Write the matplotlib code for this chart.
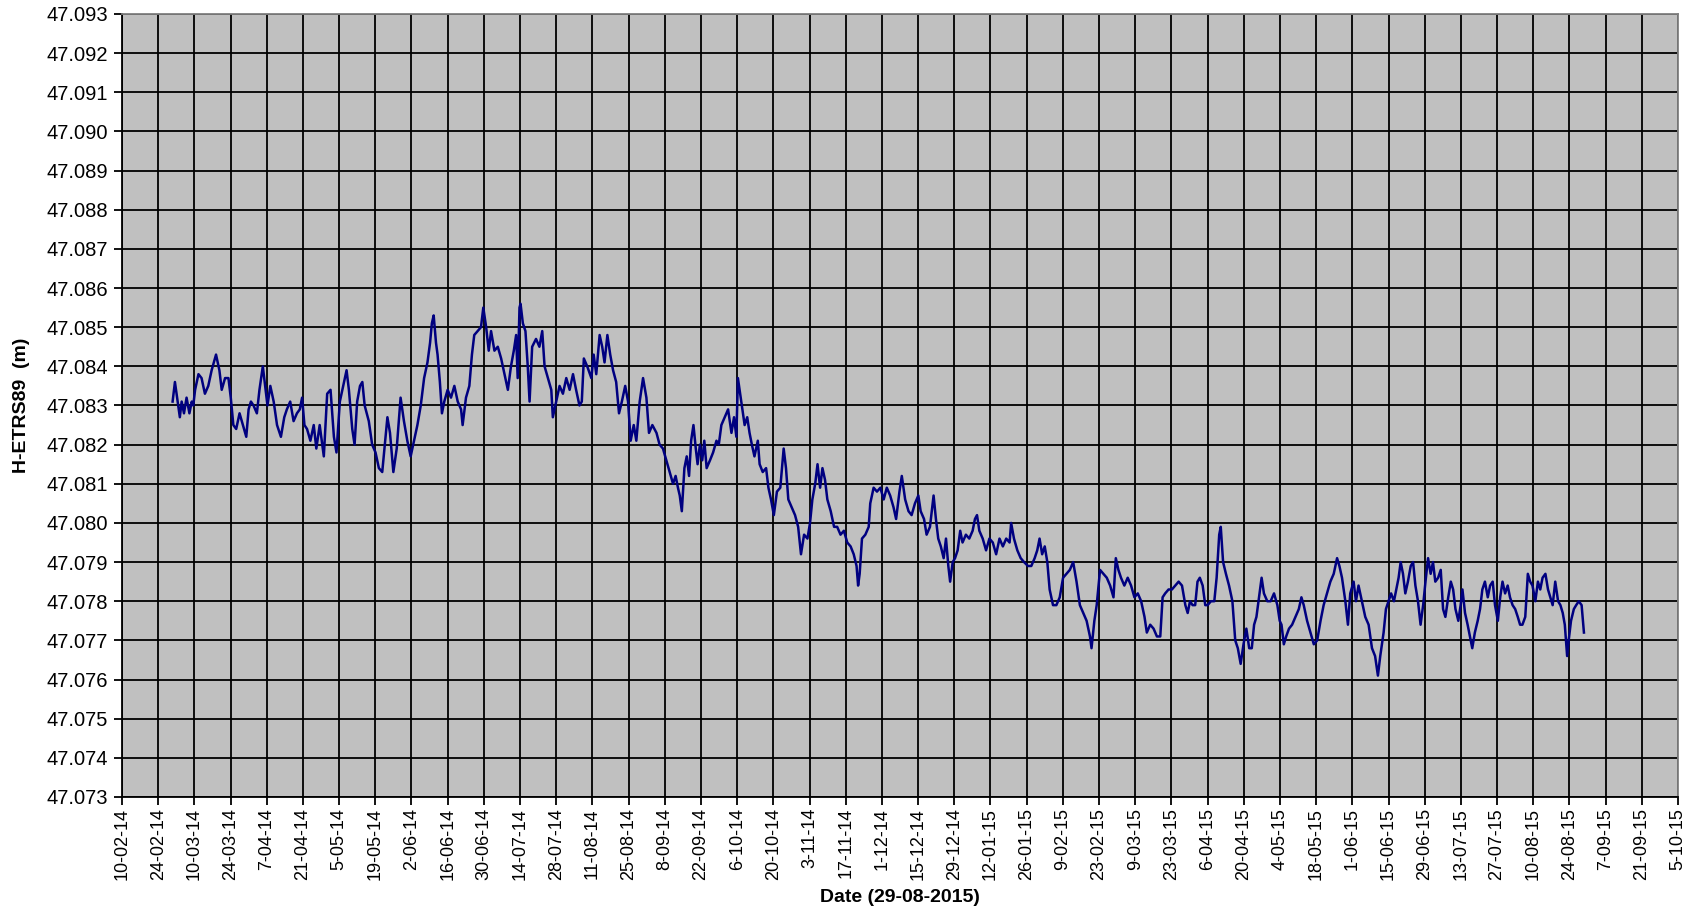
import matplotlib
matplotlib.use("Agg")
import matplotlib.pyplot as plt
import numpy as np
import pandas as pd

# start of the time axis, day offsets below are counted from here
t0 = pd.Timestamp("2014-02-10")

# days since 10-02-2014 and height (m)
days = [
    # march - june 2014
    19.6, 20.5, 22.4, 23.1, 24.0, 25.0, 26.1, 27.0, 27.6, 28.3,
    29.6, 30.8, 32.1, 33.4, 34.7, 36.4, 37.7, 38.6, 39.9, 41.2,
    42.1, 43.1, 44.2, 45.5, 46.8, 48.1, 49.0, 49.9, 50.9, 52.2,
    53.2, 54.5, 55.4, 56.3, 57.4, 58.7, 60.0, 61.5, 62.8, 63.8,
    65.1, 66.4, 67.7, 68.8, 69.7, 70.6, 71.6, 72.9, 74.2, 75.2,
    76.5, 78.1, 79.4, 80.7, 82.0, 83.0, 84.3, 85.6, 86.9, 87.8,
    89.1, 90.0, 91.0, 92.1, 93.0, 93.9, 95.5, 96.8, 98.1, 99.4,
    100.7, 102.7, 103.7, 105.0, 106.3, 107.8, 109.1, 110.4, 111.7, 113.0,
    114.3, 115.6, 116.9, 118.2, 119.2,
    # june - september 2014
    119.9, 120.6, 121.5, 122.1, 123.0, 123.8, 124.7, 126.0, 127.3, 128.6,
    129.9, 131.2, 131.8, 133.1, 134.4, 135.4, 136.3, 137.6, 138.9, 139.8,
    140.9, 141.9, 142.8, 144.1, 145.4, 146.7, 148.0, 149.3, 150.5, 151.6,
    152.5, 153.1, 153.8, 154.2, 155.1, 156.1, 157.0, 157.7, 158.7, 160.2,
    161.5, 162.6, 163.5, 164.8, 166.1, 166.7, 168.0, 169.3, 170.6, 171.9,
    173.2, 174.5, 175.7, 177.0, 177.9, 178.7, 180.0, 181.6, 182.5, 183.5,
    184.8, 185.8, 186.7, 187.8, 188.9, 190.0, 191.2, 192.3, 193.4, 194.7,
    195.8, 196.8, 198.0, 199.0, 200.3, 201.6, 202.9, 203.9, 205.2, 206.8,
    208.0, 209.3, 210.6, 211.9, 213.2, 214.2, 215.1, 215.8,
    # september - december 2014
    216.6, 217.6, 218.5, 219.4, 220.2, 221.1, 222.0, 222.7, 223.6, 224.5,
    225.3, 226.2, 227.5, 228.7, 230.0, 230.9, 231.9, 233.2, 234.5, 235.8,
    236.8, 237.7, 238.3, 239.4, 240.3, 240.9, 241.9, 242.8, 243.7, 244.7,
    246.0, 246.7, 247.9, 249.2, 250.1, 251.1, 252.2, 253.4, 254.7, 256.0,
    256.9, 257.8, 259.1, 260.4, 261.6, 262.7, 263.9, 265.2, 266.2, 267.1,
    268.2, 269.1, 270.1, 271.0, 272.0, 272.9, 274.2, 275.5, 276.7, 278.0,
    279.3, 280.6, 281.9, 283.1, 284.2, 284.8, 285.4, 286.3, 287.6, 288.9,
    289.5, 290.8, 292.1, 293.4, 294.7, 295.9, 297.2, 298.5, 299.5, 300.8,
    301.7, 303.0, 304.3, 305.5, 306.8, 308.1, 309.0, 310.3, 311.3, 312.6,
    # december 2014 - march 2015
    314.0, 314.9, 315.8, 316.8, 317.9, 318.8, 319.7, 320.4, 321.4, 322.3,
    323.3, 324.3, 325.2, 326.5, 327.8, 329.1, 330.0, 330.8, 331.7, 333.0,
    334.3, 335.6, 336.9, 338.2, 339.5, 340.8, 342.1, 343.4, 344.0, 345.1,
    346.4, 347.7, 349.0, 350.5, 351.8, 353.1, 354.1, 355.0, 356.0, 357.0,
    358.0, 358.9, 360.2, 361.5, 362.8, 364.1, 365.4, 366.7, 368.0, 369.3,
    370.6, 371.9, 373.2, 374.5, 375.1, 376.2, 377.1, 378.4, 379.7, 381.0,
    382.3, 383.6, 384.5, 385.5, 386.5, 387.8, 389.1, 390.4, 391.7, 393.0,
    394.3, 395.6, 396.5, 397.8, 399.1, 400.4, 401.7, 402.6, 403.6, 404.9,
    406.2, 407.5, 408.8, 410.1,
    # march - june 2015
    411.4, 412.3, 413.2, 414.2, 415.2, 416.1, 417.0, 418.1, 419.1, 420.0,
    421.3, 422.6, 423.5, 424.5, 425.1, 426.0, 427.1, 428.3, 429.6, 430.7,
    431.7, 432.8, 433.9, 435.0, 436.1, 437.1, 438.0, 438.9, 439.9, 440.9,
    441.8, 443.1, 444.4, 445.7, 447.0, 447.9, 448.6, 449.5, 450.4, 451.5,
    452.7, 454.0, 455.3, 456.3, 457.2, 458.5, 459.8, 461.1, 462.4, 463.7,
    464.9, 466.2, 467.5, 468.8, 470.1, 471.0, 472.0, 473.3, 474.3, 475.2,
    476.5, 477.4, 478.4, 479.7, 481.0, 482.3, 483.6, 484.8, 485.9, 486.8,
    488.1, 489.0, 490.0,
    # june - august 2015
    491.0, 492.1, 493.0, 493.9, 494.7, 495.6, 496.5, 497.5, 498.6, 499.5,
    500.4, 501.4, 502.4, 503.4, 504.3, 505.3, 506.3, 507.2, 508.1, 509.2,
    510.2, 511.1, 512.0, 513.1, 514.1, 515.0, 515.9, 517.0, 517.9, 518.6,
    519.6, 520.6, 521.5, 522.4, 523.4, 524.5, 525.4, 526.3, 527.3, 528.4,
    529.3, 530.3, 531.2, 532.3, 533.2, 534.1, 535.1, 536.1, 537.0, 538.0,
    539.0, 540.0, 540.9, 541.8, 542.9, 543.9, 544.8, 545.7, 546.8, 547.8,
    548.7, 549.6, 550.7, 551.7, 552.6, 553.5, 554.5, 555.6, 556.5, 557.4,
    558.2, 559.1, 559.7, 560.6, 561.7, 562.6, 563.6, 564.7, 565.6,
]

height = [
    # march - june 2014
    47.0831, 47.0836, 47.0827, 47.0831, 47.0828, 47.0832, 47.0828, 47.0831, 47.0830, 47.0834,
    47.0838, 47.0837, 47.0833, 47.0835, 47.0839, 47.0843, 47.0839, 47.0834, 47.0837, 47.0837,
    47.0832, 47.0825, 47.0824, 47.0828, 47.0825, 47.0822, 47.0829, 47.0831, 47.0830, 47.0828,
    47.0834, 47.0840, 47.0835, 47.0830, 47.0835, 47.0831, 47.0825, 47.0822, 47.0827, 47.0829,
    47.0831, 47.0826, 47.0828, 47.0829, 47.0832, 47.0825, 47.0824, 47.0821, 47.0825, 47.0819,
    47.0825, 47.0817, 47.0833, 47.0834, 47.0822, 47.0818, 47.0831, 47.0835, 47.0839, 47.0834,
    47.0824, 47.0820, 47.0831, 47.0835, 47.0836, 47.0830, 47.0826, 47.0820, 47.0818, 47.0814,
    47.0813, 47.0827, 47.0823, 47.0813, 47.0819, 47.0832, 47.0826, 47.0821, 47.0817, 47.0821,
    47.0825, 47.0830, 47.0837, 47.0841, 47.0846,
    # june - september 2014
    47.0851, 47.0853, 47.0846, 47.0843, 47.0836, 47.0828, 47.0831, 47.0834, 47.0832, 47.0835,
    47.0831, 47.0829, 47.0825, 47.0832, 47.0835, 47.0843, 47.0848, 47.0849, 47.0850, 47.0855,
    47.0850, 47.0844, 47.0849, 47.0844, 47.0845, 47.0842, 47.0838, 47.0834, 47.0840, 47.0844,
    47.0848, 47.0837, 47.0855, 47.0856, 47.0851, 47.0849, 47.0840, 47.0831, 47.0845, 47.0847,
    47.0845, 47.0849, 47.0840, 47.0837, 47.0834, 47.0827, 47.0831, 47.0835, 47.0833, 47.0837,
    47.0834, 47.0838, 47.0834, 47.0830, 47.0831, 47.0842, 47.0840, 47.0837, 47.0843, 47.0838,
    47.0848, 47.0845, 47.0841, 47.0848, 47.0843, 47.0839, 47.0836, 47.0828, 47.0831, 47.0835,
    47.0831, 47.0821, 47.0825, 47.0821, 47.0831, 47.0837, 47.0832, 47.0823, 47.0825, 47.0823,
    47.0820, 47.0819, 47.0816, 47.0813, 47.0810, 47.0812, 47.0809, 47.0807,
    # september - december 2014
    47.0803, 47.0814, 47.0817, 47.0812, 47.0821, 47.0825, 47.0819, 47.0815, 47.0820, 47.0816,
    47.0821, 47.0814, 47.0816, 47.0818, 47.0821, 47.0820, 47.0825, 47.0827, 47.0829, 47.0823,
    47.0827, 47.0822, 47.0837, 47.0832, 47.0828, 47.0825, 47.0827, 47.0823, 47.0820, 47.0817,
    47.0821, 47.0815, 47.0813, 47.0814, 47.0809, 47.0806, 47.0802, 47.0808, 47.0809, 47.0819,
    47.0814, 47.0806, 47.0804, 47.0802, 47.0799, 47.0792, 47.0797, 47.0796, 47.0800, 47.0806,
    47.0810, 47.0815, 47.0809, 47.0814, 47.0811, 47.0806, 47.0803, 47.0799, 47.0799, 47.0797,
    47.0798, 47.0795, 47.0794, 47.0792, 47.0789, 47.0784, 47.0787, 47.0796, 47.0797, 47.0799,
    47.0805, 47.0809, 47.0808, 47.0809, 47.0806, 47.0809, 47.0807, 47.0804, 47.0801, 47.0808,
    47.0812, 47.0806, 47.0803, 47.0802, 47.0805, 47.0807, 47.0803, 47.0801, 47.0797, 47.0799,
    # december 2014 - march 2015
    47.0807, 47.0801, 47.0796, 47.0794, 47.0791, 47.0796, 47.0789, 47.0785, 47.0790, 47.0791,
    47.0793, 47.0798, 47.0795, 47.0797, 47.0796, 47.0798, 47.0801, 47.0802, 47.0798, 47.0796,
    47.0793, 47.0796, 47.0795, 47.0792, 47.0796, 47.0794, 47.0796, 47.0795, 47.0800, 47.0796,
    47.0793, 47.0791, 47.0790, 47.0789, 47.0789, 47.0791, 47.0793, 47.0796, 47.0792, 47.0794,
    47.0790, 47.0783, 47.0779, 47.0779, 47.0781, 47.0786, 47.0787, 47.0788, 47.0790, 47.0785,
    47.0779, 47.0777, 47.0775, 47.0771, 47.0768, 47.0775, 47.0779, 47.0788, 47.0787, 47.0786,
    47.0784, 47.0781, 47.0791, 47.0788, 47.0786, 47.0784, 47.0786, 47.0784, 47.0781, 47.0782,
    47.0780, 47.0776, 47.0772, 47.0774, 47.0773, 47.0771, 47.0771, 47.0781, 47.0782, 47.0783,
    47.0783, 47.0784, 47.0785, 47.0784,
    # march - june 2015
    47.0779, 47.0777, 47.0780, 47.0779, 47.0779, 47.0785, 47.0786, 47.0784, 47.0779, 47.0779,
    47.0780, 47.0780, 47.0786, 47.0797, 47.0799, 47.0790, 47.0787, 47.0784, 47.0780, 47.0770,
    47.0768, 47.0764, 47.0769, 47.0773, 47.0768, 47.0768, 47.0774, 47.0776, 47.0781, 47.0786,
    47.0782, 47.0780, 47.0780, 47.0782, 47.0779, 47.0775, 47.0774, 47.0769, 47.0771, 47.0773,
    47.0774, 47.0776, 47.0778, 47.0781, 47.0779, 47.0775, 47.0772, 47.0769, 47.0770, 47.0775,
    47.0779, 47.0782, 47.0785, 47.0787, 47.0791, 47.0789, 47.0786, 47.0780, 47.0774, 47.0782,
    47.0785, 47.0780, 47.0784, 47.0780, 47.0776, 47.0774, 47.0768, 47.0766, 47.0761, 47.0766,
    47.0772, 47.0778, 47.0780,
    # june - august 2015
    47.0782, 47.0780, 47.0783, 47.0786, 47.0790, 47.0787, 47.0782, 47.0785, 47.0789, 47.0790,
    47.0784, 47.0780, 47.0774, 47.0779, 47.0785, 47.0791, 47.0787, 47.0790, 47.0785, 47.0786,
    47.0788, 47.0778, 47.0776, 47.0781, 47.0785, 47.0783, 47.0778, 47.0775, 47.0779, 47.0783,
    47.0777, 47.0774, 47.0771, 47.0768, 47.0772, 47.0775, 47.0778, 47.0783, 47.0785, 47.0781,
    47.0784, 47.0785, 47.0779, 47.0775, 47.0781, 47.0785, 47.0782, 47.0784, 47.0781, 47.0779,
    47.0778, 47.0776, 47.0774, 47.0774, 47.0776, 47.0787, 47.0785, 47.0784, 47.0780, 47.0785,
    47.0783, 47.0786, 47.0787, 47.0783, 47.0781, 47.0779, 47.0785, 47.0780, 47.0779, 47.0777,
    47.0774, 47.0766, 47.0770, 47.0775, 47.0778, 47.0779, 47.0780, 47.0779, 47.0772,
]

assert len(days) == len(height), (len(days), len(height))

# axis ticks: every 2 weeks, and every mm
x_ticks = pd.date_range("2014-02-10", "2015-10-05", freq="14D")
y_ticks = np.round(np.arange(47.073, 47.0935, 0.001), 3)

plt.rcParams["font.family"] = ["Liberation Sans", "DejaVu Sans"]

dates = t0 + pd.to_timedelta(days, unit="D")

fig = plt.figure(figsize=(16.96, 9.15), dpi=100)
ax = fig.add_axes([0.0719, 0.129, 0.9175, 0.8557])
ax.set_facecolor("#c0c0c0")

ax.plot(dates, height, color="#000080", lw=1.8, zorder=3)

ax.set_xlim(x_ticks[0], x_ticks[-1])
ax.set_ylim(y_ticks[0], y_ticks[-1])
ax.set_xticks(x_ticks)
ax.set_xticklabels([f"{d.day}-{d.month:02d}-{d:%y}" for d in x_ticks],
                   rotation=90, fontsize=13)
ax.set_yticks(y_ticks)
ax.set_yticklabels([f"{v:.3f}" for v in y_ticks], fontsize=14.5)

ax.grid(True, color="black", lw=1.3, zorder=1)
ax.set_axisbelow(True)
ax.tick_params(axis="both", direction="out", length=6, width=1.3, pad=2,
               color="black")
ax.tick_params(axis="y", pad=4)

for side in ["left", "bottom"]:
    ax.spines[side].set_color("black")
    ax.spines[side].set_linewidth(1.3)
for side in ["top", "right"]:
    ax.spines[side].set_color("#808080")
    ax.spines[side].set_linewidth(1.3)

ax.set_ylabel("H-ETRS89  (m)", fontsize=14, fontweight="bold", labelpad=12)
ax.set_xlabel("Date (29-08-2015)", fontsize=14, fontweight="bold", labelpad=6)

fig.savefig("out.png", dpi=100)
